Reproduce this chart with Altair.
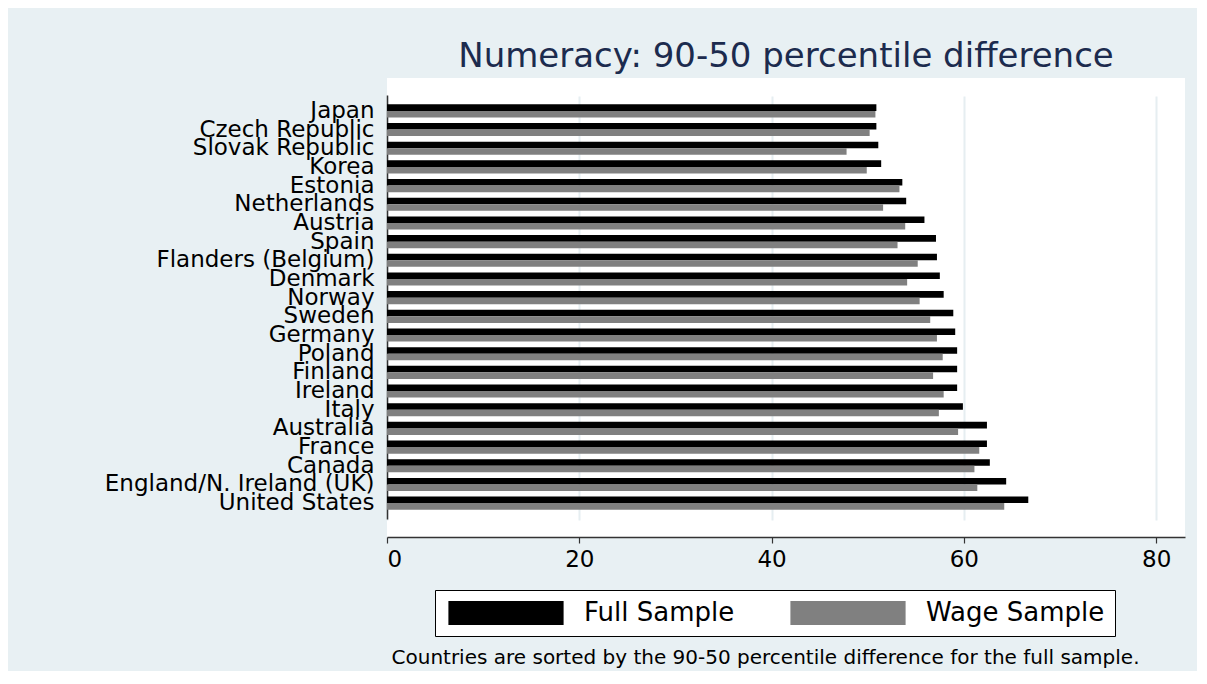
import altair as alt
import pandas as pd

countries = ["Japan", "Czech Republic", "Slovak Republic", "Korea", "Estonia",
             "Netherlands", "Austria", "Spain", "Flanders (Belgium)", "Denmark",
             "Norway", "Sweden", "Germany", "Poland", "Finland", "Ireland", "Italy",
             "Australia", "France", "Canada", "England/N. Ireland (UK)", "United States"]
full_sample = [50.9, 50.9, 51.1, 51.4, 53.6, 54.0, 55.9, 57.1, 57.2, 57.5, 57.9,
               58.9, 59.1, 59.3, 59.3, 59.3, 59.9, 62.4, 62.4, 62.7, 64.4, 66.7]
wage_sample = [50.8, 50.2, 47.8, 49.9, 53.3, 51.6, 53.9, 53.1, 55.2, 54.1, 55.4,
               56.5, 57.2, 57.8, 56.8, 57.9, 57.4, 59.4, 61.6, 61.1, 61.4, 64.2]
series_names = ["Full Sample", "Wage Sample"]
series_colors = ["#000000", "#808080"]
x_ticks = [0, 20, 40, 60, 80]

title_text = "Numeracy: 90-50 percentile difference"
note_text = "Countries are sorted by the 90-50 percentile difference for the full sample."

rows = []
for c, f, w in zip(countries, full_sample, wage_sample):
    rows.append({"country": c, "series": series_names[0], "value": f})
    rows.append({"country": c, "series": series_names[1], "value": w})
df = pd.DataFrame(rows)

FONT = "DejaVu Sans"

chart = alt.Chart(df).mark_bar().encode(
    y=alt.Y("country:N", sort=countries,
            scale=alt.Scale(paddingInner=0.3, paddingOuter=0.5, range=[17, 441]),
            axis=alt.Axis(title=None, ticks=False, labelFontSize=23, labelFont=FONT,
                          labelColor="#000000", labelPadding=13, labelLimit=0,
                          minExtent=369, maxExtent=369, domainColor="#333333",
                          domainWidth=1.5, grid=False)),
    yOffset=alt.YOffset("series:N", sort=series_names, scale=alt.Scale(paddingInner=0)),
    x=alt.X("value:Q", scale=alt.Scale(domain=[0, 83], nice=False),
            axis=alt.Axis(values=x_ticks, title=note_text, titleFont=FONT,
                          titleFontSize=20, titleFontWeight="normal", titleColor="#000000",
                          titleAnchor="start", titleAlign="left", titleBaseline="alphabetic",
                          titleX=4, titleY=126, labelFontSize=23, labelFont=FONT,
                          labelColor="#000000", labelPadding=5, tickSize=6,
                          tickColor="#333333", tickWidth=1.2, domainColor="#333333",
                          domainWidth=1.5, grid=True, gridColor="#e6eef1", gridWidth=2)),
    color=alt.Color("series:N",
                    scale=alt.Scale(domain=series_names, range=series_colors),
                    legend=alt.Legend(orient="none", legendX=48, legendY=512,
                                      direction="horizontal", title=None,
                                      fillColor="#ffffff", strokeColor="#000000",
                                      padding=10, symbolType="M-4.8,-1H4.8V1H-4.8Z",
                                      symbolSize=576, symbolStrokeWidth=0,
                                      symbolOpacity=1, symbolOffset=48,
                                      labelOffset=65, columnPadding=52,
                                      labelFontSize=26, labelFont=FONT,
                                      labelColor="#000000", labelLimit=0)),
).properties(
    width=798,
    height=459,
    title=alt.TitleParams(title_text, font=FONT, fontSize=34, fontWeight="normal",
                          color="#1c2b4e", anchor="middle", offset=4),
    padding={"left": 10, "top": 32, "right": 12, "bottom": 4},
    background="#e8f0f3",
).configure_view(
    fill="#ffffff", stroke=None
)

chart.save("out.html", embed_options={"renderer": "svg", "actions": False})
